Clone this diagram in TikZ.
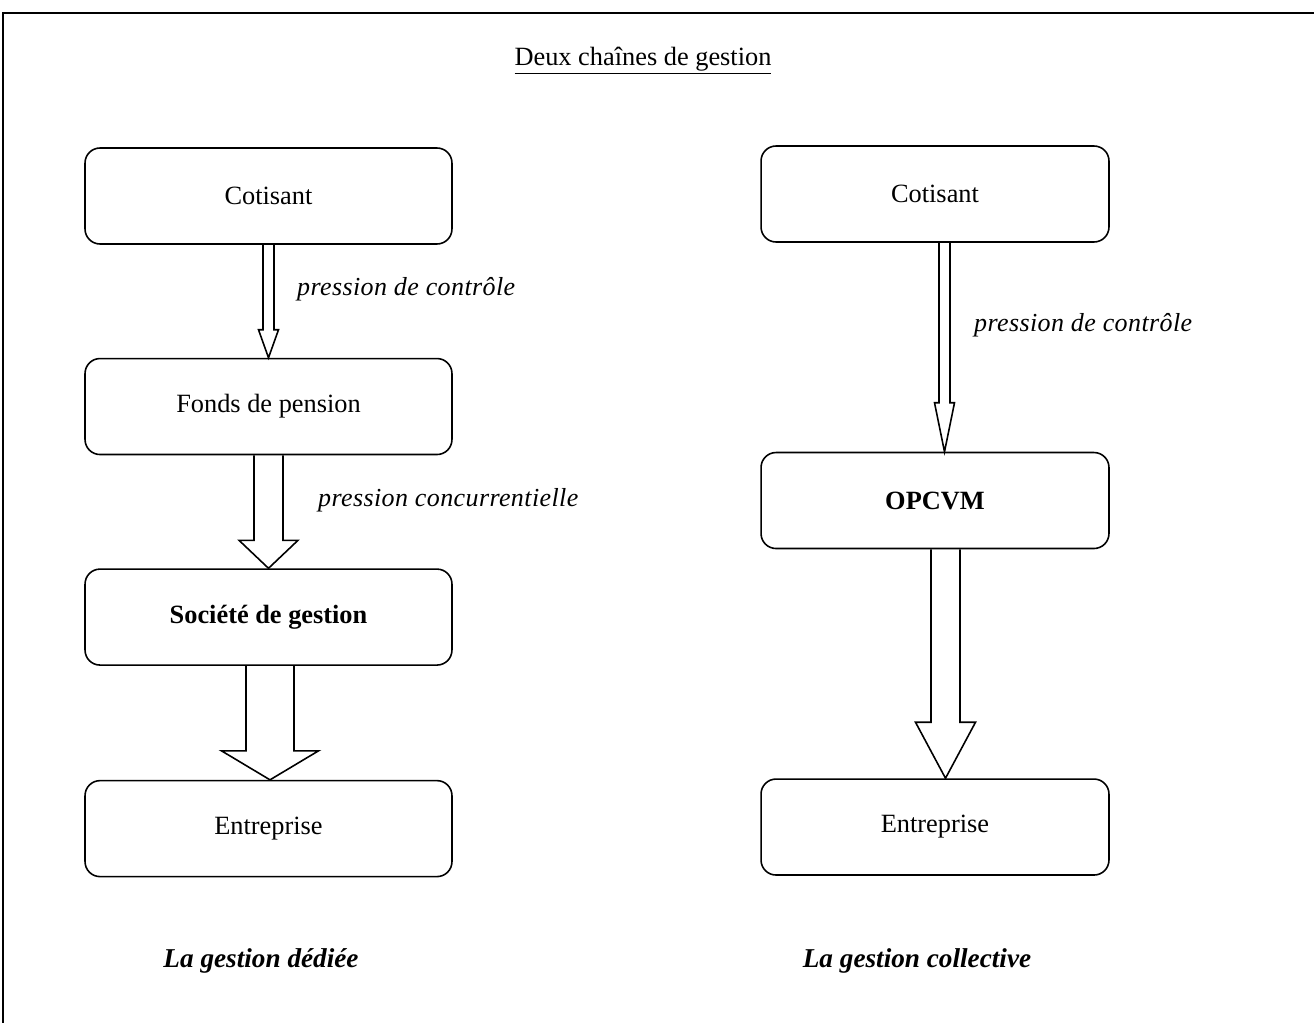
\documentclass[tikz,border=0pt]{standalone}
\usepackage{fontspec}
\setmainfont{Liberation Serif}
\newfontfamily\spacedfont{Liberation Serif}[LetterSpace=1.5]
\usepackage{tikz}
\usetikzlibrary{positioning,calc}

\tikzset{
  box/.style={draw,rounded corners=0.3cm,line width=0.9pt,minimum width=7.34cm,minimum height=1.92cm,font=\fontsize{15}{18}\selectfont},
  boxR/.style={box,minimum width=6.96cm},
  arrowline/.style={line width=0.9pt,line join=miter},
  lbl/.style={anchor=west,font=\fontsize{14.8}{18}\selectfont\spacedfont\itshape},
  titre/.style={font=\fontsize{15.5}{18}\selectfont\bfseries\itshape},
}
% hollow block arrow: [x offset]{from}{to}{shaft half}{head half}{head length}
\newcommand\blockarrow[6][0pt]{%
  \draw[arrowline] let \p1=(#2.south), \p2=(#3.north) in
    (\x1+#1-#4,\y1) -- (\x1+#1-#4,\y2+#6) -- (\x1+#1-#5,\y2+#6) -- (\x1+#1,\y2)
    -- (\x1+#1+#5,\y2+#6) -- (\x1+#1+#4,\y2+#6) -- (\x1+#1+#4,\y1);}

\begin{document}
\begin{tikzpicture}[x=0.02cm,y=-0.02cm]
            \useasboundingbox (0,0) rectangle (1314,1023);
            \draw[line width=1.2pt] (1314,13) -- (3,13) -- (3,1023);
            \node[font=\fontsize{15}{18}\selectfont] (titre) at (643,61) {\underline{Deux chaînes de gestion}};
            % gestion dediee
            \node[box] (cotisantA) at (268.5,196) {Cotisant};
            \node[box] (fonds)[below=2.26cm of cotisantA] {Fonds de pension};
            \node[box] (societe)[below=2.26cm of fonds] {\textbf{Société de gestion}};
            \node[box] (entrepriseA)[below=2.28cm of societe] {Entreprise};
            \blockarrow{cotisantA}{fonds}{0.11cm}{0.2cm}{0.56cm}
            \blockarrow{fonds}{societe}{0.29cm}{0.59cm}{0.56cm}
            \blockarrow[0.03cm]{societe}{entrepriseA}{0.48cm}{0.97cm}{0.58cm}
            \node[lbl] (pcA) at (291,289) {pression de contrôle};
            \node[lbl] (pconc) at (312,500) {pression concurrentielle};
            % gestion collective
            \node[boxR] (cotisantB) at (935,194) {Cotisant};
            \node[boxR] (opcvm)[below=4.18cm of cotisantB] {\textbf{OPCVM}};
            \node[boxR] (entrepriseB)[below=4.58cm of opcvm] {Entreprise};
            \blockarrow[0.19cm]{cotisantB}{opcvm}{0.11cm}{0.2cm}{0.98cm}
            \blockarrow[0.21cm]{opcvm}{entrepriseB}{0.29cm}{0.6cm}{1.12cm}
            \node[lbl] (pcB) at (968,325) {pression de contrôle};
            \node[titre] (dediee) at (261,961) {La gestion dédiée};
            \node[titre] (collective) at (917,961) {La gestion collective};
\end{tikzpicture}
\end{document}
